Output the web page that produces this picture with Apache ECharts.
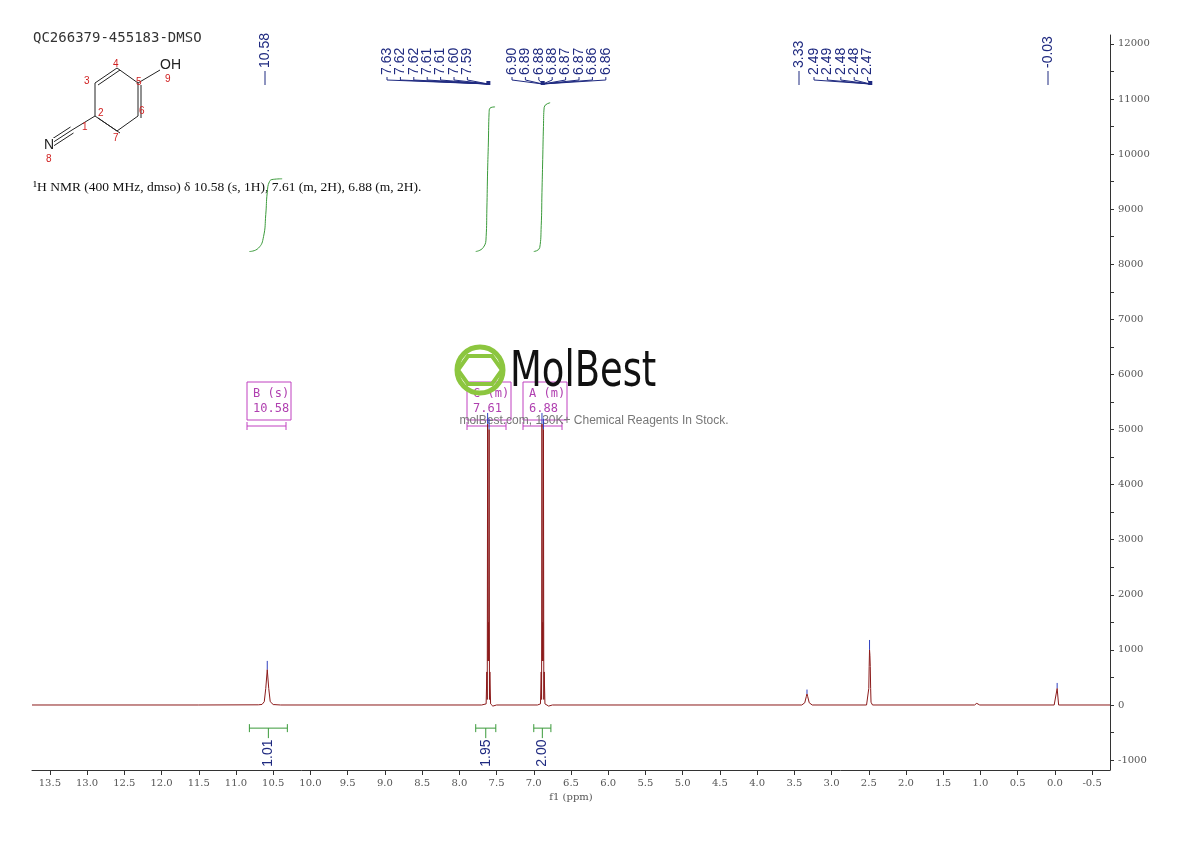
<!DOCTYPE html>
<html>
<head>
<meta charset="UTF-8">
<title>QC266379-455183-DMSO</title>
<script src="https://cdn.jsdelivr.net/npm/echarts@6/dist/echarts.min.js"></script>
<style>
html, body { margin: 0; padding: 0; background: #fff; }
#main { width: 1190px; height: 841px; }
</style>
</head>
<body>
<div id="main"></div>
<script>
// spectrum points [ppm, intensity]
var spectrum = [
  [13.74, 0], [11.5, 0], [10.70, 3], [10.65, 10], [10.62, 60], [10.60, 300], [10.58, 640], [10.56, 300], [10.54, 60], [10.50, 8], [10.4, 0],
  [7.70, 0], [7.64, 20], [7.63, 600], [7.625, 100], [7.62, 5100], [7.615, 800], [7.61, 1500], [7.605, 800], [7.60, 5000], [7.595, 100], [7.59, 600], [7.58, 20], [7.55, -20], [7.50, 0],
  [6.95, 0], [6.91, 20], [6.90, 600], [6.895, 100], [6.89, 5100], [6.885, 800], [6.88, 1500], [6.875, 800], [6.87, 5000], [6.865, 100], [6.86, 600], [6.85, 20], [6.80, -20], [6.75, 0],
  [3.40, 0], [3.36, 40], [3.34, 150], [3.33, 200], [3.32, 150], [3.30, 40], [3.26, 0],
  [2.53, 0], [2.51, 30], [2.50, 300], [2.495, 700], [2.49, 1000], [2.485, 900], [2.48, 700], [2.475, 300], [2.47, 50], [2.45, 0],
  [1.08, 0], [1.05, 30], [1.03, 50], [1.01, 0],
  [0.01, 0], [-0.03, 300], [-0.05, 0], [-0.74, 0]
];
// peak-pick markers (blue ticks at peak tops)
var peakTops = [[10.58, 640, 800], [7.62, 5100, 5300], [7.60, 5000, 5200], [6.89, 5100, 5300], [6.87, 5000, 5200], [3.33, 200, 280], [2.49, 1000, 1180], [-0.03, 300, 400]];
var integral1 = [[10.82, 8230], [10.70, 8290], [10.63, 8500], [10.60, 8900], [10.58, 9300], [10.55, 9500], [10.50, 9540], [10.38, 9550]];
var integral2 = [[7.78, 8230], [7.68, 8300], [7.64, 8500], [7.63, 9000], [7.62, 9700], [7.61, 10200], [7.60, 10750], [7.59, 10830], [7.52, 10855]];
var integral3 = [[7.00, 8230], [6.92, 8300], [6.90, 8700], [6.89, 9300], [6.88, 9900], [6.87, 10500], [6.86, 10850], [6.78, 10930]];
var integrations = [
  { from: 10.82, to: 10.31, label: '1.01' },
  { from: 7.78, to: 7.51, label: '1.95' },
  { from: 7.00, to: 6.77, label: '2.00' }
];
var peakGroups = [
  { at: 10.58, labels: ['10.58'], x0: 265 },
  { at: 7.61, labels: ['7.63', '7.62', '7.62', '7.61', '7.61', '7.60', '7.59'], x0: 387 },
  { at: 6.88, labels: ['6.90', '6.89', '6.88', '6.88', '6.87', '6.87', '6.86', '6.86'], x0: 512 },
  { at: 3.33, labels: ['3.33'], x0: 799 },
  { at: 2.48, labels: ['2.49', '2.49', '2.48', '2.48', '2.47'], x0: 814 },
  { at: -0.03, labels: ['-0.03'], x0: 1048 }
];
var xTicks = [13.5, 13.0, 12.5, 12.0, 11.5, 11.0, 10.5, 10.0, 9.5, 9.0, 8.5, 8.0, 7.5, 7.0, 6.5, 6.0, 5.5, 5.0, 4.5, 4.0, 3.5, 3.0, 2.5, 2.0, 1.5, 1.0, 0.5, 0.0, -0.5];
var yTicks = [-1000, 0, 1000, 2000, 3000, 4000, 5000, 6000, 7000, 8000, 9000, 10000, 11000, 12000];

var yMinor = [];
for (var w = -1000; w <= 12000; w += 500) yMinor.push(w);

var chart = echarts.init(document.getElementById('main'));
var serif = '"DejaVu Serif", "Liberation Serif", serif';
var green = '#3a9a3a';

chart.setOption({
  animation: false,
  grid: { left: 32, right: 80, top: 35, bottom: 71 },
  xAxis: {
    type: 'value', inverse: true, min: -0.74, max: 13.74,
    name: 'f1 (ppm)', nameLocation: 'middle', nameGap: 22,
    nameTextStyle: { fontFamily: serif, fontSize: 10, color: '#555' },
    axisLine: { onZero: false, lineStyle: { color: '#333' } },
    axisTick: { customValues: xTicks, length: 5, lineStyle: { color: '#333' } },
    axisLabel: { customValues: xTicks, fontFamily: serif, fontSize: 10, color: '#555',
      formatter: function (v) { return v.toFixed(1); } },
    splitLine: { show: false }
  },
  yAxis: {
    type: 'value', position: 'right', min: -1180, max: 12160,
    axisLine: { show: true, onZero: false, lineStyle: { color: '#333' } },
    axisTick: { show: true, customValues: yMinor, length: 4, lineStyle: { color: '#333' } },
    axisLabel: { customValues: yTicks, fontFamily: serif, fontSize: 10, color: '#555',
      formatter: function (v) { return String(v); } },
    splitLine: { show: false }
  },
  series: [
    { type: 'line', data: spectrum, showSymbol: false, lineStyle: { color: '#8b1a1a', width: 1 } },
    { type: 'line', data: integral1, smooth: true, showSymbol: false, lineStyle: { color: green, width: 1 } },
    { type: 'line', data: integral2, smooth: true, showSymbol: false, lineStyle: { color: green, width: 1 } },
    { type: 'line', data: integral3, smooth: true, showSymbol: false, lineStyle: { color: green, width: 1 } },
    { type: 'custom', data: peakTops,
      renderItem: function (params, api) {
        var a = api.coord([api.value(0), api.value(1)]), b = api.coord([api.value(0), api.value(2)]);
        return { type: 'line', shape: { x1: a[0], y1: a[1], x2: b[0], y2: b[1] }, style: { stroke: '#3040c0', lineWidth: 1 } };
      } }
  ]
});

function px(ppm, val) { return chart.convertToPixel({ gridIndex: 0 }, [ppm, val]); }

var g = [];
// title, formula
g.push({ type: 'text', left: 33, top: 31, style: { text: 'QC266379-455183-DMSO', font: '14px "DejaVu Sans Mono", monospace', fill: '#333' } });
g.push({ type: 'text', left: 33, top: 180, style: { text: '¹H NMR (400 MHz, dmso) δ 10.58 (s, 1H), 7.61 (m, 2H), 6.88 (m, 2H).', font: '13.5px "Liberation Serif", serif', fill: '#111' } });

// structure
var atoms = { c1: [72, 130], c2: [95, 116], c3: [95, 83], c4: [117, 68], c5: [138, 83], c6: [138, 116], c7: [117, 131], n: [52, 143], o: [160, 70] };
var bonds = [['c2', 'c3'], ['c3', 'c4'], ['c4', 'c5'], ['c5', 'c6'], ['c6', 'c7'], ['c7', 'c2'], ['c2', 'c1'], ['c1', 'n'], ['c5', 'o']];
bonds.forEach(function (b) {
  var a = atoms[b[0]], c = atoms[b[1]];
  g.push({ type: 'line', shape: { x1: a[0], y1: a[1], x2: c[0], y2: c[1] }, style: { stroke: '#222', lineWidth: 1 } });
});
[['c3', 'c4'], ['c5', 'c6'], ['c7', 'c2']].forEach(function (b) {
  var a = atoms[b[0]], c = atoms[b[1]];
  g.push({ type: 'line', shape: { x1: a[0] + 3, y1: a[1] + 2, x2: c[0] + 3, y2: c[1] + 2 }, style: { stroke: '#222', lineWidth: 1 } });
});
[-3, 3].forEach(function (o) {
  g.push({ type: 'line', shape: { x1: atoms.c1[0] + o * 0.5, y1: atoms.c1[1] + o, x2: atoms.n[0] + o * 0.5, y2: atoms.n[1] + o }, style: { stroke: '#222', lineWidth: 1 } });
});
g.push({ type: 'text', x: 160, y: 58, style: { text: 'OH', font: '14px "Liberation Sans", sans-serif', fill: '#222' } });
g.push({ type: 'text', x: 44, y: 138, style: { text: 'N', font: '14px "Liberation Sans", sans-serif', fill: '#222', backgroundColor: '#fff' } });
[['1', 82, 122], ['2', 98, 108], ['3', 84, 76], ['4', 113, 59], ['5', 136, 77], ['6', 139, 106], ['7', 113, 133], ['8', 46, 154], ['9', 165, 74]].forEach(function (t) {
  g.push({ type: 'text', x: t[1], y: t[2], style: { text: t[0], font: '10px "Liberation Sans", sans-serif', fill: '#d02020' } });
});

// peak labels
peakGroups.forEach(function (grp) {
  var peak = px(grp.at, 0);
  var single = grp.labels.length === 1;
  grp.labels.forEach(function (lab, i) {
    var lx = grp.x0 + i * 13.4;
    var by = single ? 68 : 75;
    g.push({ type: 'text', x: lx, y: by, rotation: Math.PI / 2,
      style: { text: lab, font: '14px "Liberation Sans", sans-serif', fill: '#1f2a80', align: 'left', verticalAlign: 'middle' } });
    if (single) {
      g.push({ type: 'line', shape: { x1: lx, y1: 71, x2: lx, y2: 85 }, style: { stroke: '#1f2a80', lineWidth: 1 } });
    } else {
      g.push({ type: 'polyline', shape: { points: [[lx, 77], [lx, 80], [peak[0], 84]] }, style: { stroke: '#1f2a80', lineWidth: 1, fill: null } });
    }
  });
  if (!single) g.push({ type: 'rect', shape: { x: peak[0] - 2, y: 81, width: 4, height: 4 }, style: { fill: '#1f2a80' } });
});

// integration bars
integrations.forEach(function (it) {
  var a = px(it.from, -420), b = px(it.to, -420), m = (a[0] + b[0]) / 2;
  var st = { stroke: green, lineWidth: 1 };
  g.push({ type: 'line', shape: { x1: a[0], y1: a[1], x2: b[0], y2: b[1] }, style: st });
  g.push({ type: 'line', shape: { x1: a[0], y1: a[1] - 4, x2: a[0], y2: a[1] + 4 }, style: st });
  g.push({ type: 'line', shape: { x1: b[0], y1: b[1] - 4, x2: b[0], y2: b[1] + 4 }, style: st });
  g.push({ type: 'line', shape: { x1: m, y1: a[1], x2: m, y2: a[1] + 10 }, style: st });
  g.push({ type: 'text', x: m, y: a[1] + 25, rotation: Math.PI / 2,
    style: { text: it.label, font: '14px "Liberation Sans", sans-serif', fill: '#1f2a80', align: 'center', verticalAlign: 'middle' } });
});

// multiplet boxes
[['B (s)', '10.58', 247], ['C (m)', '7.61', 467], ['A (m)', '6.88', 523]].forEach(function (bx) {
  g.push({ type: 'rect', shape: { x: bx[2], y: 382, width: 44, height: 38 }, style: { fill: null, stroke: '#c040c0', lineWidth: 1 } });
  g.push({ type: 'text', x: bx[2] + 6, y: 386, style: { text: bx[0] + '\n' + bx[1], font: '12px "DejaVu Sans Mono", monospace', fill: '#b040b0', lineHeight: 15 } });
  g.push({ type: 'line', shape: { x1: bx[2], y1: 426, x2: bx[2] + 39, y2: 426 }, style: { stroke: '#c040c0', lineWidth: 1 } });
  g.push({ type: 'line', shape: { x1: bx[2], y1: 422, x2: bx[2], y2: 430 }, style: { stroke: '#c040c0', lineWidth: 1 } });
  g.push({ type: 'line', shape: { x1: bx[2] + 39, y1: 422, x2: bx[2] + 39, y2: 430 }, style: { stroke: '#c040c0', lineWidth: 1 } });
});

// watermark
g.push({ type: 'circle', shape: { cx: 480, cy: 370, r: 23 }, style: { fill: null, stroke: '#8cc63f', lineWidth: 5 } });
g.push({ type: 'polygon', shape: { points: [[468, 356], [492, 356], [502, 370], [492, 384], [468, 384], [458, 370]] }, style: { fill: null, stroke: '#8cc63f', lineWidth: 4 } });
g.push({ type: 'text', x: 510, y: 348, scaleX: 0.82, style: { text: 'MolBest', font: '50px "Liberation Sans Narrow", "DejaVu Sans Condensed", sans-serif', fill: '#111' } });
g.push({ type: 'text', x: 594, y: 421, style: { text: 'molBest.com, 130K+ Chemical Reagents In Stock.', font: '12px "Liberation Sans", sans-serif', fill: '#777', align: 'center', verticalAlign: 'middle' } });

chart.setOption({ graphic: g });
</script>
</body>
</html>
